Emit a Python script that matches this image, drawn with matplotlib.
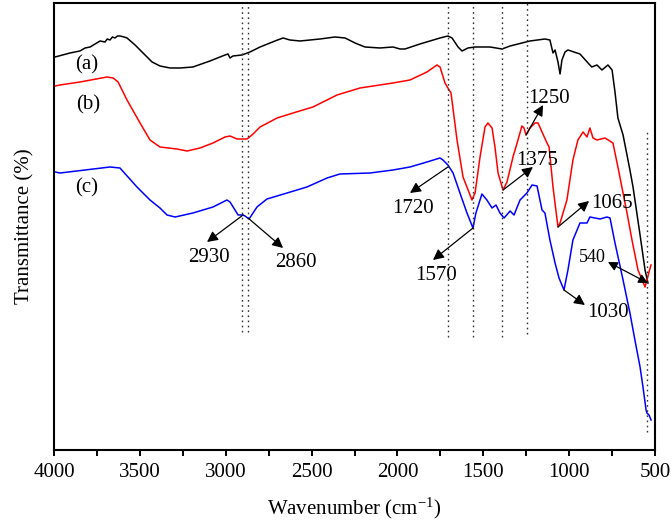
import matplotlib
matplotlib.use('Agg')
import matplotlib.pyplot as plt
from matplotlib.ticker import MultipleLocator

plt.rcParams['font.family'] = ['Liberation Serif', 'DejaVu Serif']
plt.rcParams['mathtext.fontset'] = 'custom'
plt.rcParams['mathtext.rm'] = 'Liberation Serif'
plt.rcParams['mathtext.it'] = 'Liberation Serif:italic'

# spectra (wavenumber, transmittance in arbitrary units)
wn_a = [3994, 3907, 3849, 3819, 3790, 3761, 3732, 3703, 3690, 3674, 3660, 3645, 3630, 3616, 3592, 3575,
        3528, 3470, 3429, 3383, 3324, 3266, 3191, 3092, 3004, 2987, 2975, 2958, 2905, 2859, 2800,
        2713, 2666, 2626, 2567, 2451, 2364, 2305, 2247, 2189, 2102, 2026, 1985, 1956, 1869, 1752,
        1706, 1682, 1647, 1624, 1589, 1548, 1461, 1391, 1344, 1228, 1141, 1112, 1094, 1082, 1065,
        1053, 1042, 1024, 1007, 937, 890, 868, 838, 809, 774, 750, 733, 716, 686, 646, 628, 587,
        558, 541]
t_a = [393, 397, 399, 402, 403, 406, 409, 408, 411, 410, 413, 412, 414, 414, 413, 412,
       405, 395, 388, 384, 382, 382, 383, 389, 395, 396, 392, 394, 395, 398, 403,
       409, 412, 410, 409, 411, 413, 412, 407, 403, 402, 403, 401, 401, 406, 412,
       414, 412, 403, 399, 402, 403, 403, 401, 404, 409, 411, 410, 397, 400, 388,
       376, 390, 398, 400, 396, 387, 383, 385, 380, 385, 380, 358, 332, 315, 280, 263, 215,
       180, 167]

wn_b = [3994, 3965, 3849, 3691, 3656, 3627, 3575, 3499, 3441, 3383, 3284, 3225, 3150, 3074, 3004,
        2975, 2934, 2876, 2847, 2800, 2701, 2608, 2492, 2410, 2352, 2218, 2026, 1927, 1828, 1770,
        1752, 1723, 1706, 1688, 1653, 1618, 1566, 1548, 1519, 1490, 1473, 1449, 1432, 1414, 1385,
        1362, 1327, 1298, 1275, 1263, 1251, 1228, 1199, 1181, 1158, 1129, 1117, 1094, 1065, 1053,
        1013, 978, 949, 919, 896, 879, 861, 838, 791, 745, 716, 663, 634, 599, 558, 547, 535, 523]
t_b = [364, 365, 368, 373, 372, 368, 350, 327, 310, 303, 301, 299, 302, 307, 313,
       314, 311, 311, 315, 323, 332, 337, 343, 350, 355, 362, 367, 370, 378, 385,
       383, 367, 362, 357, 310, 273, 250, 257, 293, 323, 327, 322, 303, 277, 260,
       268, 293, 310, 324, 322, 315, 322, 327, 327, 318, 307, 303, 263, 223, 227,
       250, 290, 310, 318, 313, 322, 312, 310, 312, 307, 283, 237, 210, 180, 163, 170, 178, 185]

wn_c = [3994, 3965, 3674, 3616, 3517, 3441, 3383, 3342, 3295, 3191, 3074, 2993, 2975, 2928, 2899,
        2888, 2864, 2818, 2760, 2643, 2527, 2410, 2335, 2160, 2026, 1927, 1828, 1752, 1735, 1706,
        1676, 1636, 1595, 1560, 1543, 1508, 1479, 1449, 1426, 1403, 1379, 1344, 1321, 1286, 1246,
        1216, 1187, 1170, 1158, 1141, 1112, 1082, 1059, 1030, 1007, 978, 937, 896, 879, 820, 780,
        762, 733, 686, 646, 617, 587, 570, 552, 547, 535, 523]
t_c = [278, 277, 283, 282, 263, 250, 242, 235, 233, 237, 243, 250, 248, 235, 235,
       234, 231, 243, 251, 257, 263, 272, 276, 277, 280, 283, 288, 292, 290, 285,
       277, 257, 237, 222, 237, 256, 250, 242, 245, 237, 232, 239, 235, 250, 257,
       265, 264, 250, 240, 237, 210, 187, 172, 160, 180, 210, 227, 227, 233, 231, 233,
       232, 207, 170, 137, 110, 83, 63, 40, 37, 35, 30]

# dotted guide lines: (wavenumber, low end, high end)
guide_wn = [2905, 2870, 1704, 1562, 1389, 1244, 547]
guide_lo = [118, 118, 113, 113, 113, 116, 18]
guide_hi = [447, 447, 447, 447, 447, 447, 320]

curve_labels = ['(a)', '(b)', '(c)']
curve_label_pos = [(3808, 385), (3802, 345), (3808, 262)]

# peak labels: text, text position, arrow tail, arrow head
peak_text = ['2930', '2860', '1720', '1570', '1375', '1250', '1065', '1030']
peak_text_pos = [(3097, 193), (2591, 188), (1909, 241), (1775, 175), (1187, 289), (1117, 351),
                 (750, 246), (774, 138)]
peak_tail = [(2899, 235), (2870, 232), (1706, 283), (1560, 222), (1385, 260), (1251, 315),
             (1065, 223), (1030, 160)]
peak_head = [(3109, 208), (2666, 202), (1927, 257), (1793, 190), (1211, 283), (1152, 345),
             (884, 249), (908, 145)]

fig = plt.figure(figsize=(6.72, 5.24), dpi=100)
ax = fig.add_axes([0.0804, 0.1412, 0.8943, 0.8531])

ax.plot(wn_a, t_a, color='black', lw=1.1)
ax.plot(wn_b, t_b, color='#ff0000', lw=1.1)
ax.plot(wn_c, t_c, color='#0000ff', lw=1.1)

for w, lo, hi in zip(guide_wn, guide_lo, guide_hi):
    ax.plot([w, w], [lo, hi], color='#333333', lw=1.0, ls=(0, (1.2, 2.5)))

for s, (x, y) in zip(curve_labels, curve_label_pos):
    ax.text(x, y, s, fontsize=15, ha='center', va='center')

arrow = dict(arrowstyle='-|>', color='black', lw=0.9, mutation_scale=16, shrinkA=0, shrinkB=0)
for s, tp, tail, head in zip(peak_text, peak_text_pos, peak_tail, peak_head):
    ax.text(tp[0], tp[1], s, fontsize=15, ha='center', va='center')
    ax.annotate('', xy=head, xytext=tail, arrowprops=arrow)

# 540 has arrow heads at both ends
ax.text(867, 193, '540', fontsize=13, ha='center', va='center')
ax.annotate('', xy=(774, 188), xytext=(541, 167),
            arrowprops=dict(arrowstyle='<|-|>', color='black', lw=0.9, mutation_scale=14,
                            shrinkA=0, shrinkB=0))

ax.set_xlim(4000, 500)
ax.set_ylim(0, 447)
ax.xaxis.set_major_locator(MultipleLocator(500))
ax.xaxis.set_minor_locator(MultipleLocator(250))
ax.tick_params(axis='x', which='both', direction='out', length=4, width=1.4, labelsize=15, pad=5)
ax.set_yticks([])
for sp in ax.spines.values():
    sp.set_linewidth(1.5)

ax.set_xlabel('Wavenumber (cm$^{-1}$)', fontsize=15, labelpad=10)
ax.set_ylabel('Transmittance (%)', fontsize=15, labelpad=14)

fig.savefig('out.png', dpi=100)
